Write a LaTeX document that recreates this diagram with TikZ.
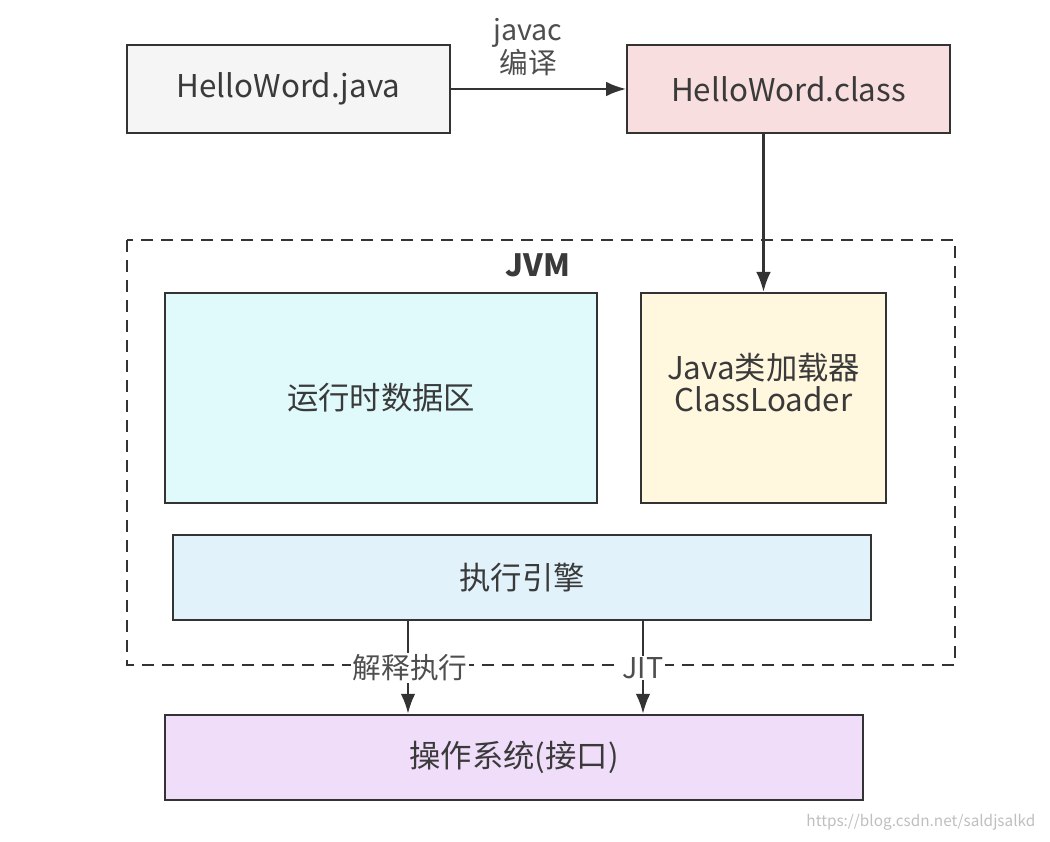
\documentclass[tikz,border=0pt]{standalone}
\usepackage{fontspec}
\setmainfont{Noto Sans CJK SC}
\usetikzlibrary{arrows.meta}
\definecolor{edge}{HTML}{333333}
\definecolor{txt}{HTML}{3A3A3A}
\definecolor{cjava}{HTML}{F5F5F5}
\definecolor{cclass}{HTML}{F8DEDE}
\definecolor{crt}{HTML}{E0FAFC}
\definecolor{ccl}{HTML}{FFF7DE}
\definecolor{cee}{HTML}{E1F2FB}
\definecolor{cos}{HTML}{EFDDF9}
\tikzset{
  box/.style={draw=edge, line width=1.6pt, text=txt, font=\fontsize{23.5}{27}\selectfont, align=center, inner sep=0pt},
  conn/.style={draw=edge, line width=1.8pt, -{Latex[length=15pt,width=11pt]}},
  lbl/.style={text=txt!90, font=\fontsize{21.5}{23}\selectfont, align=center, inner sep=1pt},
}
\begin{document}
\begin{tikzpicture}[x=0.75pt,y=-0.75pt]
\useasboundingbox (0,0) rectangle (1050,842);
\fill[white] (0,0) rectangle (1050,842);
% JVM dashed
\draw[edge, line width=1.6pt, dash pattern=on 9pt off 6pt] (127,240) rectangle (955,665);
\node[font=\fontsize{23}{27}\selectfont\bfseries, text=txt] (jvm) at (538,265) {JVM};
% boxes
\node[box, fill=cjava, minimum width=242pt, minimum height=66pt] (java) at (288.5,89) {HelloWord.java};
\node[box, fill=cclass, minimum width=242pt, minimum height=66pt] (class) at (788.5,89) {HelloWord.class};
\node[box, fill=crt, minimum width=324pt, minimum height=157.5pt] (rt) at (381,398) {运行时数据区};
\node[box, fill=ccl, minimum width=184pt, minimum height=157.5pt] (cl) at (763.5,398) {};
\node[text=txt, font=\fontsize{23.5}{24}\selectfont, align=center, inner sep=0pt] (cltext) at (763.5,383) {Java类加载器\\ClassLoader};
\node[box, fill=cee, minimum width=523.5pt, minimum height=64pt] (ee) at (522,577.5) {执行引擎};
\node[box, fill=cos, minimum width=523.5pt, minimum height=64pt] (os) at (514,757.5) {操作系统(接口)};
% connectors
\draw[conn] (java.east) -- (class.west);
\node[lbl] (javac) at (528,47) {javac\\编译};
\draw[conn] (class.south -| cl.north) -- (cl.north);
\coordinate (a1) at (408,620);
\coordinate (a2) at (643,620);
\draw[conn] (a1) -- (a1 |- os.north);
\draw[conn] (a2) -- (a2 |- os.north);
\node[lbl, fill=white] (interp) at (410,668) {解释执行};
\node[lbl, fill=white] (jit) at (643,668) {JIT};
\node[text=black!25, font=\fontsize{11.5}{13}\selectfont, anchor=east] (wm) at (1040,822) {https://blog.csdn.net/saldjsalkd};
\end{tikzpicture}
\end{document}
